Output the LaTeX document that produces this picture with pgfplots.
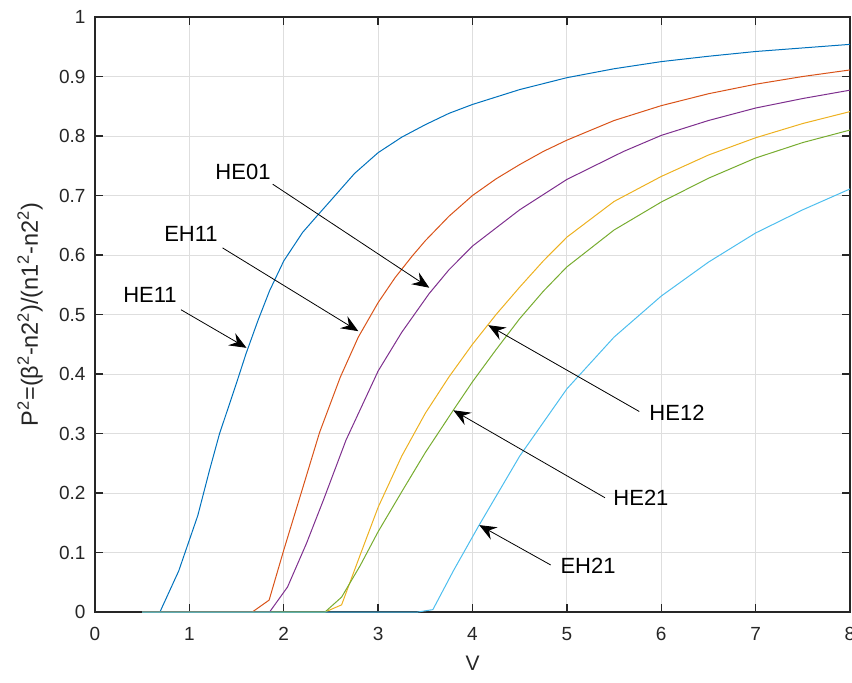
\documentclass[border=0pt]{standalone}
\usepackage{fontspec}
\setmainfont{Liberation Sans}
\usepackage{pgfplots}
\pgfplotsset{compat=1.18}
\usetikzlibrary{arrows.meta}
\definecolor{mblue}{rgb}{0,0.447,0.741}
\definecolor{mred}{rgb}{0.85,0.325,0.098}
\definecolor{myellow}{rgb}{0.929,0.694,0.125}
\definecolor{mpurple}{rgb}{0.494,0.184,0.556}
\definecolor{mgreen}{rgb}{0.466,0.674,0.188}
\definecolor{mcyan}{rgb}{0.301,0.745,0.933}
\definecolor{axgray}{rgb}{0.15,0.15,0.15}
\definecolor{gridgray}{rgb}{0.87,0.87,0.87}
\begin{document}
\begin{tikzpicture}
\begin{axis}[
  width=755pt, height=595pt, scale only axis,
  xmin=0, xmax=8, ymin=0, ymax=1,
  xtick={0,1,2,3,4,5,6,7,8},
  ytick={0,0.1,0.2,0.3,0.4,0.5,0.6,0.7,0.8,0.9,1},
  yticklabels={0,0.1,0.2,0.3,0.4,0.5,0.6,0.7,0.8,0.9,1},
  grid=major,
  major grid style={line width=0.9pt, color=gridgray},
  axis line style={line width=1.3pt, color=axgray},
  tick style={line width=1.3pt, color=axgray},
  tick align=inside, major tick length=8pt,
  /pgf/number format/assume math mode=true,
  ticklabel style={font=\fontsize{19}{21}\selectfont, text=axgray},
  xticklabel style={yshift=-12pt},
  yticklabel style={xshift=-6pt},
  xlabel={V},
  ylabel={P\textsuperscript{2}=(β\textsuperscript{2}-n2\textsuperscript{2})/(n1\textsuperscript{2}-n2\textsuperscript{2})},
  label style={font=\fontsize{21}{23}\selectfont, text=axgray},
  ylabel style={font=\fontsize{23.5}{25}\selectfont},
  xlabel style={at={(axis description cs:0.5,-0.0857)}, anchor=center},
  ylabel style={at={(axis description cs:-0.0861,0.5)}, anchor=center},
  every axis plot/.append style={line width=1pt},
]
\addplot[mblue] coordinates {(0.5,0) (0.688,0) (0.887,0.069) (1.089,0.162) (1.213,0.238) (1.32,0.30) (1.426,0.35) (1.514,0.392) (1.6,0.434) (1.727,0.49) (1.85,0.54) (2.0,0.59) (2.2,0.638) (2.36,0.667) (2.5,0.692) (2.75,0.737) (3.0,0.772) (3.25,0.798) (3.5,0.819) (3.75,0.838) (4.0,0.853) (4.5,0.878) (5.0,0.898) (5.5,0.913) (6.0,0.925) (6.5,0.934) (7.0,0.942) (7.5,0.948) (8.0,0.954)};
\addplot[mred] coordinates {(0.5,0) (1.667,0) (1.845,0.02) (2.0,0.104) (2.2,0.208) (2.38,0.302) (2.6,0.395) (2.79,0.462) (3.0,0.52) (3.18,0.562) (3.36,0.598) (3.5,0.624) (3.75,0.665) (4.0,0.70) (4.25,0.728) (4.5,0.752) (4.75,0.774) (5.0,0.793) (5.5,0.826) (6.0,0.851) (6.5,0.871) (7.0,0.887) (7.5,0.900) (8.0,0.911)};
\addplot[myellow] coordinates {(0.5,0) (2.437,0) (2.613,0.012) (2.81,0.096) (3.0,0.176) (3.25,0.262) (3.5,0.334) (3.75,0.395) (4.0,0.45) (4.25,0.50) (4.5,0.546) (4.75,0.59) (5.0,0.63) (5.5,0.69) (6.0,0.732) (6.5,0.768) (7.0,0.797) (7.5,0.821) (8.0,0.841)};
\addplot[mpurple] coordinates {(0.5,0) (1.85,0) (2.04,0.042) (2.24,0.115) (2.42,0.188) (2.66,0.289) (3.0,0.405) (3.25,0.47) (3.54,0.535) (3.75,0.575) (4.0,0.615) (4.5,0.676) (5.0,0.727) (5.6,0.774) (6.0,0.801) (6.5,0.826) (7.0,0.847) (7.5,0.863) (8.0,0.877)};
\addplot[mgreen] coordinates {(0.5,0) (2.437,0) (2.613,0.025) (2.81,0.078) (3.0,0.135) (3.25,0.202) (3.5,0.268) (3.8,0.34) (4.0,0.387) (4.25,0.441) (4.5,0.493) (4.75,0.539) (5.0,0.58) (5.5,0.642) (6.0,0.689) (6.5,0.729) (7.0,0.763) (7.5,0.789) (8.0,0.81)};
\addplot[mcyan] coordinates {(0.5,0) (3.42,0) (3.58,0.004) (3.8,0.07) (4.07,0.146) (4.5,0.262) (5.0,0.375) (5.5,0.462) (6.0,0.531) (6.5,0.588) (7.0,0.637) (7.5,0.676) (8.0,0.711)};
% annotations
\tikzset{ann/.style={-{Stealth[length=17pt,width=14pt,inset=6pt]}, line width=0.8pt, black},
         lab/.style={font=\fontsize{22}{24}\selectfont, black, inner sep=0pt}}
\draw[ann] (axis cs:0.911,0.508) -- (axis cs:1.605,0.444);
\node[lab] at (axis cs:0.583,0.533) {HE11};
\draw[ann] (axis cs:1.351,0.612) -- (axis cs:2.79,0.472);
\node[lab] at (axis cs:1.017,0.635) {EH11};
\draw[ann] (axis cs:1.883,0.719) -- (axis cs:3.542,0.545);
\node[lab] at (axis cs:1.568,0.739) {HE01};
\draw[ann] (axis cs:5.767,0.337) -- (axis cs:4.167,0.482);
\node[lab] at (axis cs:6.167,0.334) {HE12};
\draw[ann] (axis cs:5.404,0.192) -- (axis cs:3.797,0.339);
\node[lab] at (axis cs:5.785,0.192) {HE21};
\draw[ann] (axis cs:4.829,0.079) -- (axis cs:4.072,0.146);
\node[lab] at (axis cs:5.224,0.077) {EH21};
\end{axis}
\pgfresetboundingbox
\path[use as bounding box] ([xshift=-95pt,yshift=-70pt]current axis.south west) rectangle ([xshift=2pt,yshift=17pt]current axis.north east);
\end{tikzpicture}
\end{document}
